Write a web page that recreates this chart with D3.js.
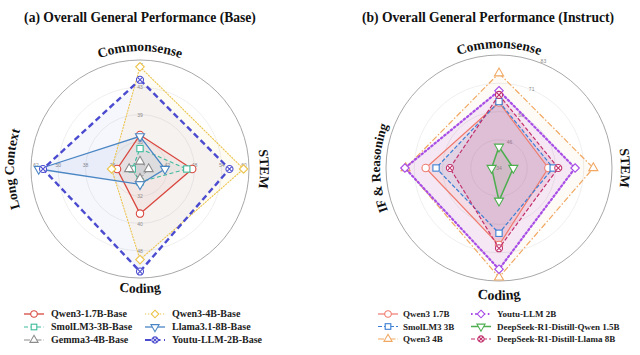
<!DOCTYPE html>
<html><head><meta charset="utf-8">
<script src="https://cdn.jsdelivr.net/npm/d3@7/dist/d3.min.js"></script>
<style>
html,body{margin:0;padding:0;background:#fff;}
svg{display:block;font-family:"Liberation Serif","Times New Roman",serif;}
</style></head>
<body><svg id="chart" width="640" height="355"></svg>
<script>
// ---------- DATA ----------
// (a) Base models: axes order Commonsense, STEM, Coding, Long Context
const baseAxes = ["Commonsense", "STEM", "Coding", "Long Context"];
const baseAxisMin = [31, 36, 24, 14];
const baseAxisMax = [47, 60, 56, 62];
const baseNames = ["Qwen3-1.7B-Base", "SmolLM3-3B-Base", "Gemma3-4B-Base", "Qwen3-4B-Base", "Llama3.1-8B-Base", "Youtu-LLM-2B-Base"];
const qwen17Base = [36.0, 47.5, 37.1, 24.1];
const smolBase   = [34.0, 46.3, 27.8, 17.4];
const gemmaBase  = [32.1, 37.9, 26.9, 18.8];
const qwen4Base  = [46.0, 58.8, 50.6, 26.5];
const llamaBase  = [35.8, 41.5, 28.5, 58.6];
const youtuBase  = [44.1, 55.7, 54.1, 56.7];

// (b) Instruct models: axes order Commonsense, STEM, Coding, IF & Reasoning
const instAxes = ["Commonsense", "STEM", "Coding", "IF & Reasoning"];
const instDomain = [34, 83];
const instTicks = [34, 46, 59, 71, 83];
const instNames = ["Qwen3 1.7B", "SmolLM3 3B", "Qwen3 4B", "Youtu-LLM 2B", "DeepSeek-R1-Distill-Qwen 1.5B", "DeepSeek-R1-Distill-Llama 8B"];
const qwen17Inst = [62.4, 55.4, 67.4, 65.8];
const smolInst   = [62.8, 57.5, 62.3, 61.3];
const qwen4Inst  = [75.1, 74.9, 81.4, 74.5];
const youtuInst  = [67.5, 67.0, 77.9, 74.8];
const dsQwenInst = [43.2, 40.2, 48.2, 37.2];
const dsLlamaInst= [65.7, 59.7, 68.8, 55.3];

// ---------- STYLES ----------
const baseStyles = [
  {color:"#d9483f", dash:null, w:1.3, marker:"circle", op:0.06},
  {color:"#3dbb9b", dash:"4,2.5", w:1.1, marker:"square", op:0.06},
  {color:"#8c8c8c", dash:"6,2,1.5,2", w:1.0, marker:"triangle", op:0.10},
  {color:"#ecc44c", dash:"1.2,1.8", w:1.1, marker:"diamond", op:0.07},
  {color:"#4a86c4", dash:null, w:1.3, marker:"triangleDown", op:0.07},
  {color:"#4b4bd0", dash:"6,3.5", w:2.4, marker:"xcircle", op:0.05}
];
const instStyles = [
  {color:"#ef7b6e", dash:null, w:1.2, marker:"circle", op:0.10},
  {color:"#3b7fd4", dash:"4,2", w:1.2, marker:"square", op:0.10},
  {color:"#f0a862", dash:"6,2,1.5,2", w:1.2, marker:"triangle", op:0.06},
  {color:"#a84ee6", dash:"1.6,2.6", w:2.2, marker:"diamond", op:0.10},
  {color:"#4cae4f", dash:null, w:1.5, marker:"triangleDown", op:0.10},
  {color:"#c2306c", dash:"4,2", w:1.2, marker:"xcircle", op:0.12}
];

const svg = d3.select("#chart");

function pt(cx, cy, r, a){ return [cx + r*Math.sin(a), cy - r*Math.cos(a)]; }

function drawMarker(g, type, x, y, color, s){
  s = s || 3.8;
  const m = g.append("g").attr("transform", `translate(${x},${y})`);
  const st = el => el.attr("fill","#fff").attr("stroke",color).attr("stroke-width",1.1);
  if(type==="circle") st(m.append("circle").attr("r", s));
  else if(type==="square") st(m.append("rect").attr("x",-s*0.85).attr("y",-s*0.85).attr("width",s*1.7).attr("height",s*1.7));
  else if(type==="triangle") st(m.append("path").attr("d", d3.symbol(d3.symbolTriangle, s*s*2.6)()));
  else if(type==="triangleDown") st(m.append("path").attr("d", d3.symbol(d3.symbolTriangle, s*s*2.6)()).attr("transform","rotate(180)"));
  else if(type==="diamond") st(m.append("path").attr("d", `M0,${-s*1.15}L${s*1.15},0L0,${s*1.15}L${-s*1.15},0Z`));
  else if(type==="xcircle"){
    st(m.append("circle").attr("r", s*0.95));
    m.append("path").attr("d",`M${-s*0.65},${-s*0.65}L${s*0.65},${s*0.65}M${-s*0.65},${s*0.65}L${s*0.65},${-s*0.65}`)
      .attr("stroke",color).attr("stroke-width",1.1);
  }
}

function arcLabel(id, cx, cy, r, a, text, ccw, size){
  let d;
  if(!ccw){
    const p0 = pt(cx,cy,r,a-Math.PI), p1 = pt(cx,cy,r,a), p2 = pt(cx,cy,r,a+Math.PI);
    d = `M${p0}A${r},${r} 0 0 1 ${p1}A${r},${r} 0 0 1 ${p2}`;
  } else {
    const p0 = pt(cx,cy,r,a+Math.PI), p1 = pt(cx,cy,r,a), p2 = pt(cx,cy,r,a-Math.PI);
    d = `M${p0}A${r},${r} 0 0 0 ${p1}A${r},${r} 0 0 0 ${p2}`;
  }
  svg.append("defs").append("path").attr("id", id).attr("d", d);
  svg.append("text").attr("font-size", size).attr("font-weight","bold").attr("fill","#111")
    .append("textPath").attr("href", "#"+id).attr("startOffset","50%").attr("text-anchor","middle").text(text);
}

function radar(opts){
  const {cx, cy, R, axes, scales, series, styles, prefix, labelR, tickFn} = opts;
  const n = axes.length;
  const ang = d3.range(n).map(i => i*2*Math.PI/n);
  const g = svg.append("g");
  [0.25,0.5,0.75].forEach(f => g.append("circle").attr("cx",cx).attr("cy",cy).attr("r",R*f)
      .attr("fill","none").attr("stroke","#ebebeb").attr("stroke-width",0.8));
  g.append("circle").attr("cx",cx).attr("cy",cy).attr("r",R).attr("fill","none").attr("stroke","#a8a8a8").attr("stroke-width",1);
  tickFn(g);
  const line = d3.line().curve(d3.curveLinearClosed);
  series.forEach((vals,si)=>{
    const s = styles[si];
    const pts = vals.map((v,i)=> pt(cx,cy,scales[i](v),ang[i]));
    g.append("path").attr("d", line(pts)).attr("fill", s.color).attr("fill-opacity", s.op).attr("stroke","none");
  });
  series.forEach((vals,si)=>{
    const s = styles[si];
    const pts = vals.map((v,i)=> pt(cx,cy,scales[i](v),ang[i]));
    g.append("path").attr("d", line(pts)).attr("fill","none").attr("stroke", s.color)
      .attr("stroke-width", s.w).attr("stroke-dasharray", s.dash).attr("stroke-linecap", s.dash && s.dash.startsWith("1.") ? "round":"butt");
    pts.forEach(p => drawMarker(g, s.marker, p[0], p[1], s.color, 3.7));
  });
  axes.forEach((name,i)=>{
    const L = labelR[i];
    arcLabel(prefix+i, cx, cy, L.r, ang[i], name, L.ccw, L.size);
  });
}

// ---------- (a) BASE ----------
const aCx = 140, aCy = 169, aR = 109;
const aScales = baseAxes.map((d,i)=> d3.scaleLinear().domain([baseAxisMin[i], baseAxisMax[i]]).range([0,aR]));
radar({
  cx:aCx, cy:aCy, R:aR, axes:baseAxes, scales:aScales, prefix:"la",
  series:[qwen17Base, smolBase, gemmaBase, qwen4Base, llamaBase, youtuBase], styles:baseStyles,
  labelR:[{r:118,size:13.5},{r:120,size:13.5},{r:124,ccw:true,size:13.5},{r:126,size:13.5}],
  tickFn: g => {
    baseAxes.forEach((d,i)=>{
      const a = i*Math.PI/2;
      [0.25,0.5,0.75,1].forEach(f=>{
        const v = aScales[i].invert(aR*f);
        const p = pt(aCx,aCy,aR*f - (f===1?5:0),a);
        g.append("text").attr("x",p[0]).attr("y",p[1]+(i%2===1?-2:2)).attr("font-size",5).attr("fill","#8a8a8a")
          .attr("text-anchor","middle").attr("font-family","Liberation Sans, sans-serif").text(Math.round(v));
      });
    });
  }
});

// ---------- (b) INSTRUCT ----------
const bCx = 499, bCy = 168, bR = 113;
const bScale = d3.scaleLinear().domain(instDomain).range([0,bR]);
radar({
  cx:bCx, cy:bCy, R:bR, axes:instAxes, scales:instAxes.map(()=>bScale), prefix:"lb",
  series:[qwen17Inst, smolInst, qwen4Inst, youtuInst, dsQwenInst, dsLlamaInst], styles:instStyles,
  labelR:[{r:120,size:13.5},{r:122,size:13.5},{r:132,ccw:true,size:14},{r:119,size:13}],
  tickFn: g => {
    const a = 22.5*Math.PI/180;
    instTicks.forEach(t=>{
      const p = pt(bCx,bCy,bScale(t)+ (t===instDomain[1]?3:0),a);
      g.append("text").attr("x",p[0]).attr("y",p[1]+2).attr("font-size",5).attr("fill","#8a8a8a")
        .attr("text-anchor","middle").attr("font-family","Liberation Sans, sans-serif").text(t);
    });
  }
});

// ---------- TITLES ----------
svg.append("text").attr("x",140).attr("y",22).attr("text-anchor","middle").attr("font-size",13.6)
  .attr("font-weight","bold").attr("fill","#111").text("(a) Overall General Performance (Base)");
svg.append("text").attr("x",488).attr("y",22).attr("text-anchor","middle").attr("font-size",13.6)
  .attr("font-weight","bold").attr("fill","#111").text("(b) Overall General Performance (Instruct)");

// ---------- LEGENDS ----------
function legend(names, styles, cols, fs){
  names.forEach((nm,i)=>{
    const c = cols[Math.floor(i/3)], y = cols.rows[i%3];
    const s = styles[i];
    svg.append("line").attr("x1",c.lx).attr("x2",c.lx+20).attr("y1",y).attr("y2",y)
      .attr("stroke",s.color).attr("stroke-width",Math.min(s.w,1.8)).attr("stroke-dasharray", s.dash);
    drawMarker(svg, s.marker, c.lx+10, y, s.color, 3.3);
    svg.append("text").attr("x",c.tx).attr("y",y+3.3).attr("font-size",fs).attr("font-weight","bold")
      .attr("fill","#222").text(nm);
  });
}
const aCols = [{lx:24, tx:51},{lx:145, tx:172}]; aCols.rows=[314,327,340];
legend(baseNames, baseStyles, aCols, 10);
const bCols = [{lx:378, tx:403},{lx:471, tx:497}]; bCols.rows=[314,326.5,339];
legend(instNames, instStyles, bCols, 9);
</script></body></html>
